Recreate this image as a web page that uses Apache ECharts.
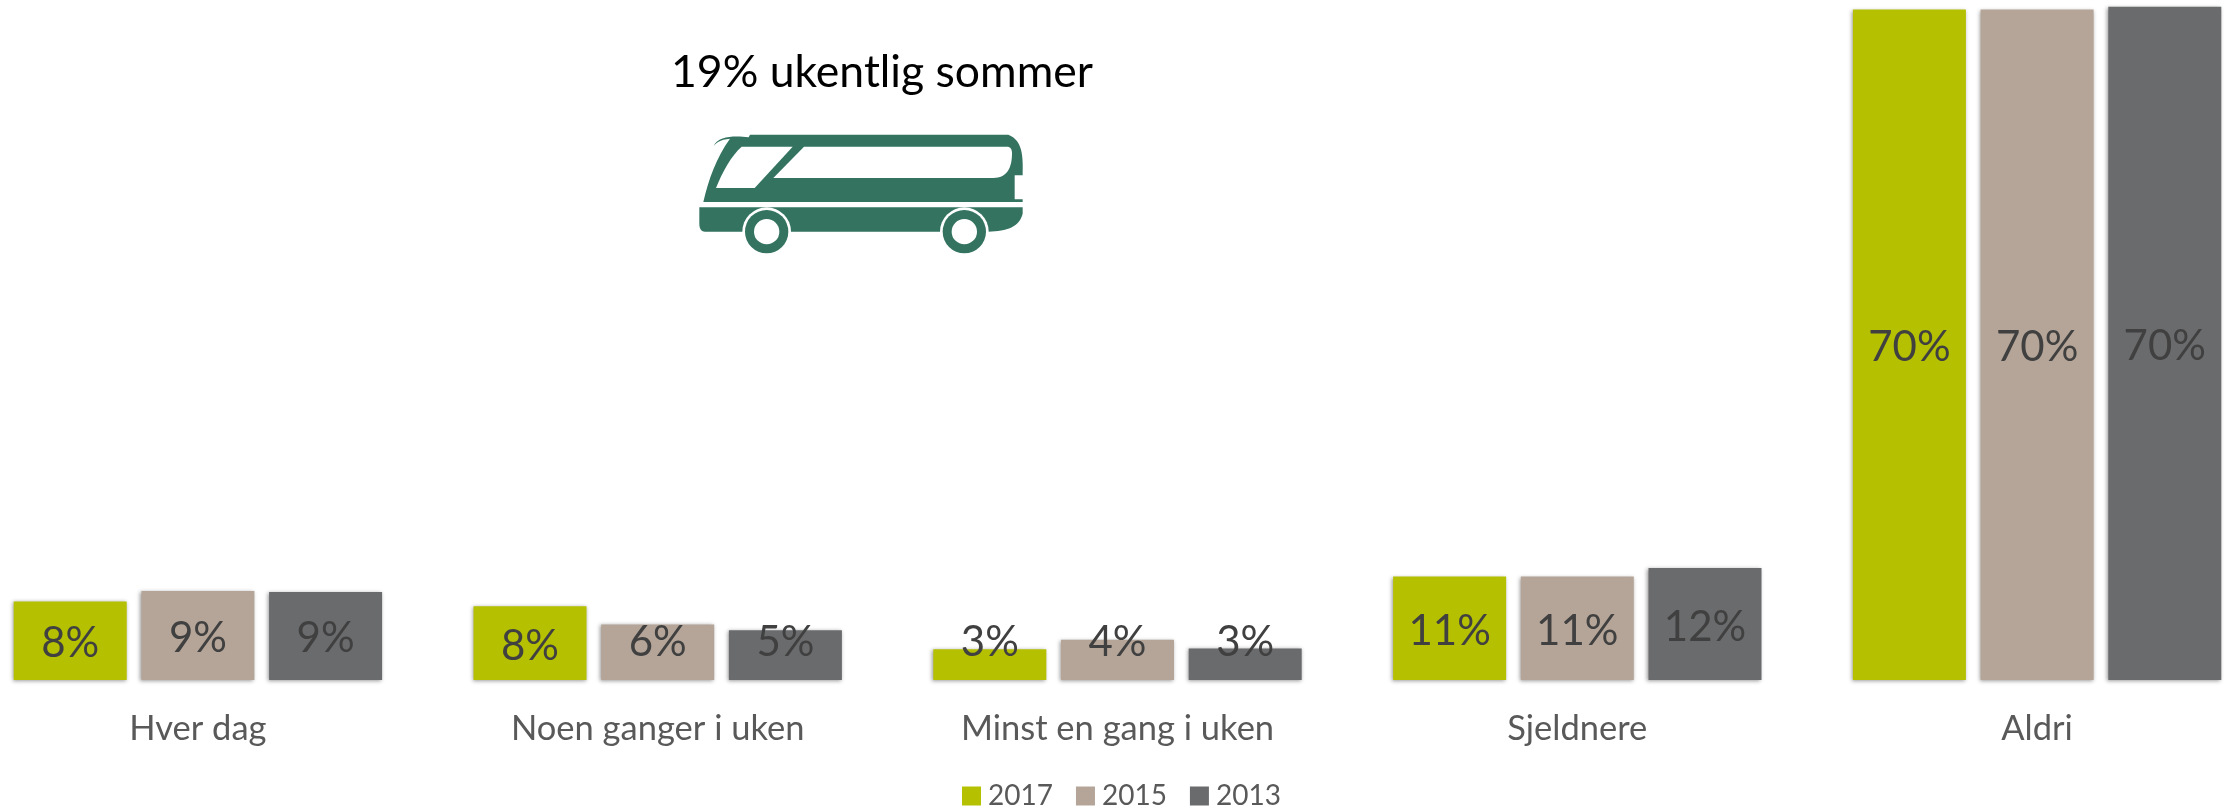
<!DOCTYPE html>
<html>
<head>
<meta charset="utf-8">
<title>Buss</title>
<style>
    html, body { margin: 0; padding: 0; background: #fff; }
    #main { width: 2224px; height: 808px; }
</style>
<script src="https://cdn.jsdelivr.net/npm/echarts@6/dist/echarts.min.js"></script>
</head>
<body>
<div id="main"></div>
<script>
const categories = ['Hver dag', 'Noen ganger i uken', 'Minst en gang i uken', 'Sjeldnere', 'Aldri']
const values2017 = [8.2, 7.7, 3.2, 10.8, 70]
const values2015 = [9.3, 5.8, 4.2, 10.8, 70]
const values2013 = [9.2, 5.2, 3.3, 11.7, 70.3]
const titleText = '19% ukentlig sommer'

const green = '#337360'
const font = 'Lato'

// bussikonet, graphic kan ikke ta pathData direkte
echarts.graphic.registerShape('busUpper', echarts.graphic.extendPath('M190 516 L1148 516 L1148 508 L1124 508 L1124 436 L1148 436 C1150 380 1148 330 1105 314 L330 314 L326 322 C290 318 235 315 220 350 C225 340 240 328 270 326 C230 380 205 450 190 516 Z', {}))
echarts.graphic.registerShape('busFront', echarts.graphic.extendPath('M228 474 C245 430 275 375 305 350 L458 350 L344 474 Z', {}))
echarts.graphic.registerShape('busSide', echarts.graphic.extendPath('M400 444 L492 350 L1100 350 C1112 350 1116 358 1116 370 C1116 415 1100 444 1060 444 Z', {}))
echarts.graphic.registerShape('busLower', echarts.graphic.extendPath('M178 532 L1148 532 L1148 550 C1140 590 1100 605 1045 605 L195 605 C182 605 178 595 178 580 Z', {}))

// lave stolper: etiketten står over stolpen, ikke midt i den
function labelFor (value) {
    if (value < 7.5) {
        return { value: value, label: { position: 'insideBottom', distance: 17, offset: [0, 0] } }
    }
    return value
}

function makeSeries (name, color, values) {
    return {
        name: name,
        type: 'bar',
        barWidth: 113,
        barGap: '13%',
        data: values.map(labelFor),
        itemStyle: {
            color: color,
            shadowBlur: 4,
            shadowOffsetX: -1,
            shadowOffsetY: 1,
            shadowColor: 'rgba(0, 0, 0, 0.4)'
        },
        label: {
            show: true,
            position: 'inside',
            offset: [0, 3],
            fontFamily: font,
            fontSize: 42,
            color: '#404040',
            formatter: (p) => Math.round(p.value) + '%'
        }
    }
}

const myChart = echarts.init(document.getElementById('main'))
myChart.setOption({
    animation: false,
    backgroundColor: '#fff',
    // rutenettet går utenfor lerretet, ellers blir kategoriene for tette
    grid: { left: -32, top: 0, width: 2299, height: 680, outerBoundsMode: 'none' },
    title: {
        text: titleText,
        left: 877,
        top: 45,
        textAlign: 'center',
        textStyle: { fontFamily: font, fontSize: 44.5, fontWeight: 'normal', color: '#000' }
    },
    legend: {
        left: 962,
        top: 782,
        icon: 'rect',
        itemWidth: 19,
        itemHeight: 19,
        itemGap: 23,
        padding: 0,
        textStyle: { fontFamily: font, fontSize: 28, color: '#595959', padding: [0, 0, 0, 2] },
        data: [
            { name: '2017', itemStyle: { shadowBlur: 0, shadowOffsetX: 0, shadowOffsetY: 0 } },
            { name: '2015', itemStyle: { shadowBlur: 0, shadowOffsetX: 0, shadowOffsetY: 0 } },
            { name: '2013', itemStyle: { shadowBlur: 0, shadowOffsetX: 0, shadowOffsetY: 0 } }
        ]
    },
    xAxis: {
        type: 'category',
        data: categories,
        axisLine: { show: false },
        axisTick: { show: false },
        axisLabel: { fontFamily: font, fontSize: 34.5, color: '#595959', margin: 31, interval: 0 }
    },
    yAxis: {
        type: 'value',
        min: 0,
        max: 71,
        show: false
    },
    series: [
        makeSeries('2017', '#B5C100', values2017),
        makeSeries('2015', '#B5A598', values2015),
        makeSeries('2013', '#6A6B6D', values2013)
    ],
    graphic: [{
        type: 'group',
        x: 640,
        y: 30,
        scaleX: 1 / 3,
        scaleY: 1 / 3,
        children: [
            { type: 'busUpper', style: { fill: green } },
            { type: 'busFront', style: { fill: '#fff' } },
            { type: 'busSide', style: { fill: '#fff' } },
            { type: 'busLower', style: { fill: green } },
            { type: 'circle', shape: { cx: 380, cy: 605, r: 73 }, style: { fill: '#fff' } },
            { type: 'circle', shape: { cx: 380, cy: 605, r: 65 }, style: { fill: green } },
            { type: 'circle', shape: { cx: 380, cy: 605, r: 38 }, style: { fill: '#fff' } },
            { type: 'circle', shape: { cx: 973, cy: 605, r: 73 }, style: { fill: '#fff' } },
            { type: 'circle', shape: { cx: 973, cy: 605, r: 65 }, style: { fill: green } },
            { type: 'circle', shape: { cx: 973, cy: 605, r: 38 }, style: { fill: '#fff' } }
        ]
    }]
})
</script>
</body>
</html>
